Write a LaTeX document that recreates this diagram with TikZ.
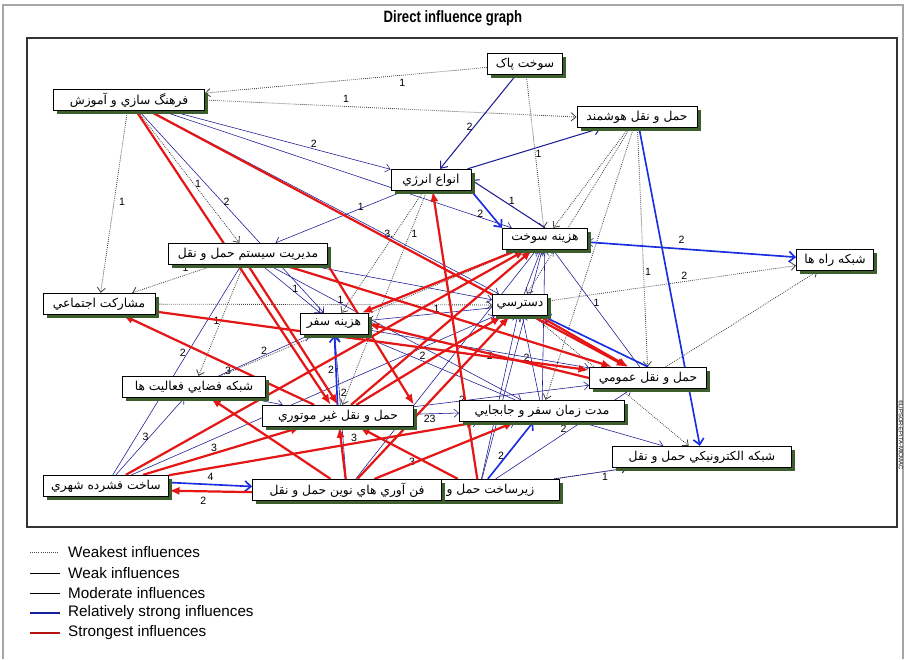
\documentclass[tikz,border=0pt]{standalone}
\usepackage{fontspec}
\setmainfont{Liberation Sans}
\newfontfamily\persian[Script=Arabic]{DejaVu Sans}
\usepackage{xcolor}
\usetikzlibrary{calc, positioning, arrows.meta, shadows}
\pgfdeclarelayer{bg}
\pgfsetlayers{bg,main}
\TeXXeTstate=1
\newcommand{\fatxt}[1]{\beginR#1\endR}

\definecolor{navyline}{RGB}{30,30,150}
\definecolor{blueline}{RGB}{25,45,225}
\definecolor{redline}{RGB}{228,22,22}
\definecolor{shadowc}{RGB}{60,95,45}

\begin{document}
\begin{tikzpicture}
  [x=0.03cm, y=-0.03cm,
   fact/.style={draw, thick, fill=white, inner sep=1pt, minimum height=0.64cm,
     font=\persian\fontsize{10.5}{12}\selectfont,
     general shadow={fill=shadowc, shadow xshift=3pt, shadow yshift=-3pt}},
   lbl/.style={font=\fontsize{9}{10}\selectfont, text=black, inner sep=1pt},
   weakest/.style={densely dotted, line width=0.7pt, black!75, -{Straight Barb[length=4pt,width=7pt]}},
   weak/.style={navyline, line width=0.5pt, -{Straight Barb[length=4pt,width=7pt]}},
   moderate/.style={navyline, line width=0.9pt, -{Straight Barb[length=5pt,width=8pt]}},
   strong/.style={blueline, line width=1.4pt, -{Straight Barb[length=5pt,width=9pt]}},
   strongest/.style={redline, line width=1.9pt, -{Latex[length=9pt,width=7pt]}}]

  \useasboundingbox (0,0) rectangle (906,659);

  % frames %
  \draw[gray!70, line width=1pt] (3,659) -- (3,5) -- (903,5) -- (903,659);
  \draw[black!80, line width=1pt] (27,38) rectangle (897,527);
  \node[font=\bfseries\fontsize{14}{16}\selectfont, xscale=0.8] (title) at (453,18) {Direct influence graph};
  \node[rotate=-90, font=\fontsize{5}{6}\selectfont, inner sep=0pt] (wm) at (901,435) {\textcopyright LIPSOR-EPITA-MICMAC};

  % nodes %
  \node[fact, minimum width=2.25cm] (clean) at (525,64) {\fatxt{سوخت پاک}};
  \node[fact, minimum width=4.53cm] (culture) at (129,100) {\fatxt{فرهنگ سازي و آموزش}};
  \node[fact, minimum width=3.6cm] (smart) at (637,117) {\fatxt{حمل و نقل هوشمند}};
  \node[fact, minimum width=2.4cm] (energy) at (431,180) {\fatxt{انواع انرژي}};
  \node[fact, minimum width=2.55cm] (fuelcost) at (545,239) {\fatxt{هزينه سوخت}};
  \node[fact, minimum width=2.31cm] (roads) at (835,260) {\fatxt{شبکه راه ها}};
  \node[fact, minimum width=4.77cm] (mgmt) at (248,254) {\fatxt{مديريت سيستم حمل و نقل}};
  \node[fact, minimum width=3.36cm] (partic) at (99,304) {\fatxt{مشارکت اجتماعي}};
  \node[fact, minimum width=2.04cm] (tripcost) at (334,324) {\fatxt{هزينه سفر}};
  \node[fact, minimum width=1.65cm] (access) at (520,305) {\fatxt{دسترسي}};
  \node[fact, minimum width=3.51cm] (transit) at (648,378) {\fatxt{حمل و نقل عمومي}};
  \node[fact, minimum width=4.29cm] (spatial) at (194,387) {\fatxt{شبکه فضايي فعاليت ها}};
  \node[fact, minimum width=4.53cm] (nonmotor) at (338,416) {\fatxt{حمل و نقل غير موتوري}};
  \node[fact, minimum width=4.95cm] (triptime) at (542,411) {\fatxt{مدت زمان سفر و جابجايي}};
  \node[fact, minimum width=5.37cm] (etrans) at (702,457) {\fatxt{شبکه الکترونيکي حمل و نقل}};
  \node[fact, minimum width=3.75cm] (compact) at (106,486) {\fatxt{ساخت فشرده شهري}};
  \node[fact, minimum width=4.8cm] (infra) at (479,490) {\fatxt{زيرساخت حمل و نقل}};
  \node[fact, minimum width=5.67cm] (newtech) at (347,490) {\fatxt{فن آوري هاي نوين حمل و نقل}};

  % edges %
  \begin{pgfonlayer}{bg}
  % weakest
  \draw[weakest] (clean) -- node[lbl, pos=0.3, below=2pt] {1} (culture);
  \draw[weakest] (culture.east) -- node[lbl, pos=0.38, above=2pt] {1} (smart.west);
  \draw[weakest] (clean) -- (fuelcost);
  \draw[weakest] (culture) -- node[lbl, right=3pt] {1} (partic);
  \draw[weakest] (culture) -- node[lbl, pos=0.55, right] {1} (mgmt);
  \draw[weakest] (mgmt) -- node[lbl, pos=0.3, above left] {1} (partic);
  \draw[weakest] (smart) -- (access);
  \draw[weakest] (smart) -- (fuelcost);
  \draw[weakest] (smart) -- (triptime);
  \draw[weakest] (smart) -- node[lbl, pos=0.6, right] {1} (transit);
  \draw[weakest] (energy) -- node[lbl, pos=0.35, left] {3.} (tripcost);
  \draw[weakest] (energy) -- node[lbl, pos=0.2, right] {1} (nonmotor);
  \draw[weakest] (access) -- node[lbl, pos=0.55, above] {2} (roads);
  \draw[weakest] (transit) -- (roads);
  \draw[weakest] (mgmt) -- node[lbl, pos=0.5, left] {1} (spatial);
  \draw[weakest] (access) -- (etrans);
  \draw[weakest] (infra) -- (etrans);
  \draw[weakest] (spatial) -- (fuelcost);
  \draw[weakest] (partic) -- node[lbl, pos=0.55, above] {1} (access);

  % weak and moderate
  \draw[moderate] (clean) -- node[lbl, pos=0.55, left] {2} (energy);
  \draw[weak] (culture) -- node[lbl, pos=0.65, above] {2} (energy);
  \draw[weak] (culture) -- node[lbl, pos=0.45, right] {2} (tripcost);
  \draw[weak] (culture) -- (fuelcost);
  \draw[weak] (culture) -- (access);
  \draw[moderate] (energy) -- node[lbl, pos=0.5, below right] {1} (smart);
  \draw[moderate] (fuelcost.north) -- node[lbl, pos=0.45, above] {1} (energy.east);
  \draw[weak] (energy) -- node[lbl, pos=0.3, left] {1} (mgmt);
  \draw[weak] (mgmt) -- node[lbl, pos=0.5, right] {1} (tripcost);
  \draw[weak] (mgmt) -- (access);
  \draw[weak] (mgmt) -- (triptime);
  \draw[weak] (compact) -- node[lbl, pos=0.58, left] {2} (mgmt);
  \draw[weak] (access) -- node[lbl, pos=0.45, above] {1} (tripcost);
  \draw[weak] (triptime) -- node[lbl, pos=0.6, above] {2} (tripcost);
  \draw[weak] (newtech) -- node[lbl, pos=0.6, right] {2} (tripcost);
  \draw[weak] (spatial) -- node[lbl, pos=0.5, above] {2} (tripcost);
  \draw[weak] (access) -- (fuelcost);
  \draw[weak] (infra) -- node[lbl, pos=0.35, right] {2} (access);
  \draw[weak] (triptime) -- node[lbl, pos=0.5, left] {2} (access);
  \draw[weak] (transit) -- node[lbl, pos=0.55, right] {1} (fuelcost);
  \draw[weak] (triptime) -- (etrans);
  \draw[weak] (spatial) -- (nonmotor);
  \draw[weak] (nonmotor) -- node[lbl, pos=0.35, below] {23} (triptime);
  \draw[weak] (compact) -- node[lbl, pos=0.5, left] {3} (spatial);
  \draw[weak] (compact) -- node[lbl, pos=0.6, above] {3} (triptime);
  \draw[weak] (compact) -- (access);
  \draw[weak] (infra) -- node[lbl, pos=0.5, above] {2} (transit);
  \draw[weak] (infra) -- node[lbl, pos=0.7, below] {1} (etrans);
  \draw[weak] (infra) -- (fuelcost);
  \draw[weak] (newtech) -- (fuelcost);
  \draw[weak] (triptime) -- (fuelcost);
  \draw[weak] (roads) -- (fuelcost);
  \draw[weak] (newtech) -- node[lbl, pos=0.3, left] {3} (triptime);
  \draw[weak] (tripcost) -- node[lbl, pos=0.55, below] {2} (transit);
  \draw[weak] (nonmotor) -- node[lbl, pos=0.3, left] {2} (transit);

  % relatively strong
  \draw[strong] (energy.south east) -- node[lbl, pos=0.45, below left] {2} (fuelcost.north west);
  \draw[strong] (fuelcost) -- node[lbl, pos=0.45, above=3pt] {2} (roads);
  \draw[strong] (smart) -- (etrans);
  \draw[strong] (nonmotor) -- node[lbl, pos=0.5, left] {2} (tripcost);
  \draw[strong] ([yshift=3pt]compact.east) -- node[lbl, pos=0.5, above=2pt] {4} ([yshift=3pt]newtech.west);
  \draw[strong] (infra) -- node[lbl, pos=0.4, left] {2} (triptime);
  \draw[strong] (transit.north) -- (access);

  % strongest
  \draw[strongest] (culture) -- (nonmotor);
  \draw[strongest] (culture) -- (transit);
  \draw[strongest] (mgmt.south) -- (nonmotor.north);
  \draw[strongest] (mgmt.south east) -- (nonmotor.north east);
  \draw[strongest] (mgmt) -- (transit);
  \draw[strongest] (partic) -- (transit);
  \draw[strongest] (nonmotor) -- node[lbl, pos=0.45, below] {3} (partic);
  \draw[strongest] (fuelcost) -- (tripcost);
  \draw[strongest] (nonmotor) -- (fuelcost);
  \draw[strongest] (compact) -- (fuelcost);
  \draw[strongest] (infra) -- (energy);
  \draw[strongest] (transit.west) -- (tripcost.east);
  \draw[strongest] (newtech) -- (access);
  \draw[strongest] (newtech) -- (spatial);
  \draw[strongest] (compact) -- node[lbl, pos=0.45, above] {3} (nonmotor);
  \draw[strongest] (newtech) -- (nonmotor);
  \draw[strongest] (infra) -- (nonmotor);
  \draw[strongest] ([yshift=-4pt]infra.west) -- node[lbl, pos=0.85, below=3pt] {2} ([yshift=-4pt]compact.east);
  \draw[strongest] (newtech) -- (triptime);
  \draw[strongest] (compact) -- (triptime);
  \draw[strongest] (nonmotor) -- (access);
  \draw[strongest] (access) -- (transit);
  \end{pgfonlayer}

  % legend %
  \begin{scope}[font=\fontsize{13}{15}\selectfont]
    \draw[densely dotted, black!70, line width=0.8pt] (30,552) -- (58,552);
    \node[anchor=west, inner sep=0pt] (l1) at (68,552) {Weakest influences};
    \draw[black, line width=0.6pt] (30,573) -- (60,573);
    \node[anchor=west, inner sep=0pt] (l2) at (68,573) {Weak influences};
    \draw[black, line width=0.8pt] (30,593) -- (60,593);
    \node[anchor=west, inner sep=0pt] (l3) at (68,593) {Moderate influences};
    \draw[blueline!70!black, line width=2pt] (30,613) -- (60,613);
    \node[anchor=west, inner sep=0pt] (l4) at (68,613) {Relatively strong influences};
    \draw[redline!80!black, line width=2pt] (30,633) -- (60,633);
    \node[anchor=west, inner sep=0pt] (l5) at (68,633) {Strongest influences};
  \end{scope}
\end{tikzpicture}
\end{document}
